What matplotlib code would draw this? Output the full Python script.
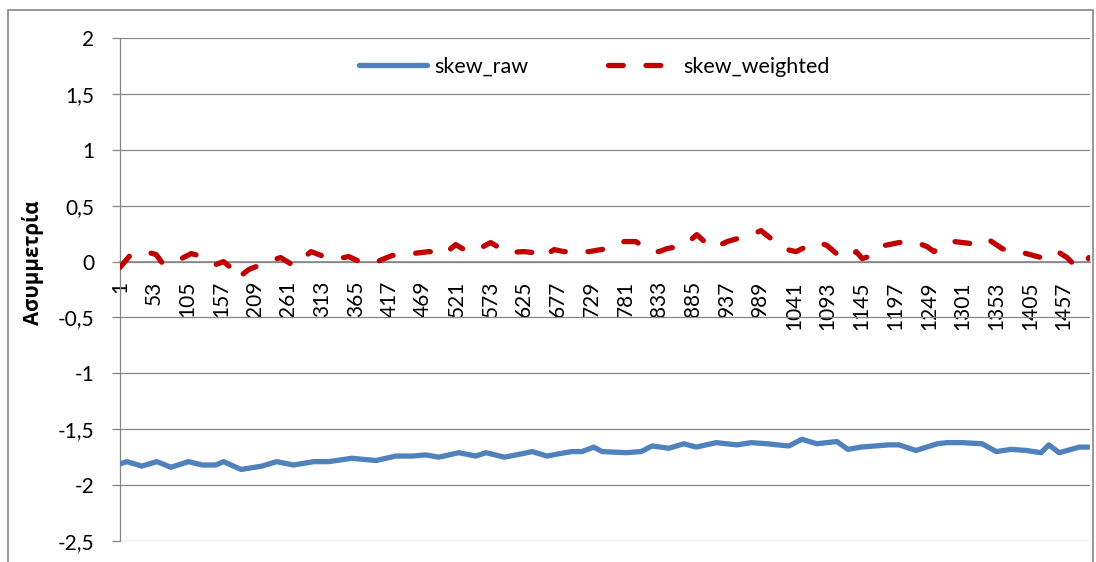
import matplotlib
matplotlib.use("Agg")
import matplotlib.pyplot as plt
from matplotlib.patches import Rectangle

# ---- data ----
n_categories = 1496
tick_categories = list(range(1, 1458, 52))
tick_labels = [str(c) for c in tick_categories]
y_ticks = [2, 1.5, 1, 0.5, 0, -0.5, -1, -1.5, -2, -2.5]
y_tick_labels = ["2", "1,5", "1", "0,5", "0", "-0,5", "-1", "-1,5", "-2", "-2,5"]

raw_x = [1, 12, 35, 58, 80, 107, 128, 149, 161, 188, 220, 243, 269, 300, 323, 359,
         396, 427, 452, 473, 493, 524, 550, 566, 594, 621, 637, 660, 678, 698, 714,
         732, 745, 782, 805, 822, 848, 871, 890, 921, 953, 975, 999, 1033, 1053,
         1076, 1107, 1124, 1144, 1187, 1203, 1229, 1262, 1277, 1300, 1331, 1353,
         1376, 1399, 1422, 1434, 1450, 1481, 1496]
skew_raw = [-1.81, -1.79, -1.83, -1.79, -1.84, -1.79, -1.82, -1.82, -1.79, -1.86,
            -1.83, -1.79, -1.82, -1.79, -1.79, -1.76, -1.78, -1.74, -1.74, -1.73,
            -1.75, -1.71, -1.74, -1.71, -1.75, -1.72, -1.70, -1.74, -1.72, -1.70,
            -1.70, -1.66, -1.70, -1.71, -1.70, -1.65, -1.67, -1.63, -1.66, -1.62,
            -1.64, -1.62, -1.63, -1.65, -1.59, -1.63, -1.61, -1.68, -1.66, -1.64,
            -1.64, -1.69, -1.63, -1.62, -1.62, -1.63, -1.70, -1.68, -1.69, -1.71,
            -1.64, -1.71, -1.66, -1.66]

weighted_x = [1, 18, 46, 57, 66, 77, 87, 111, 123, 141, 149, 161, 172, 182, 200,
              223, 239, 249, 269, 285, 296, 320, 339, 354, 374, 385, 398, 421, 452,
              478, 493, 501, 519, 532, 547, 573, 586, 597, 624, 640, 651, 671, 686,
              698, 725, 752, 779, 797, 820, 833, 845, 871, 882, 891, 913, 925, 938,
              964, 979, 990, 1015, 1030, 1044, 1067, 1080, 1092, 1110, 1126, 1137,
              1146, 1157, 1168, 1180, 1203, 1222, 1234, 1246, 1257, 1269, 1288, 1314,
              1326, 1339, 1362, 1376, 1388, 1422, 1434, 1442, 1450, 1462, 1473, 1484,
              1496]
skew_weighted = [-0.054, 0.063, 0.080, 0.063, -0.009, -0.027, 0.000, 0.071, 0.054,
                 0.000, -0.027, 0.000, -0.054, -0.152, -0.071, -0.018, 0.018, 0.036,
                 -0.036, 0.036, 0.089, 0.036, 0.027, 0.045, -0.009, -0.009, 0.000,
                 0.054, 0.071, 0.089, 0.080, 0.063, 0.152, 0.107, 0.089, 0.170, 0.125,
                 0.080, 0.089, 0.080, 0.036, 0.107, 0.089, 0.089, 0.089, 0.116, 0.179,
                 0.179, 0.089, 0.089, 0.116, 0.143, 0.196, 0.241, 0.125, 0.143, 0.179,
                 0.223, 0.250, 0.277, 0.161, 0.107, 0.089, 0.152, 0.170, 0.143, 0.054,
                 0.036, 0.089, 0.027, 0.045, 0.107, 0.143, 0.170, 0.179, 0.161, 0.134,
                 0.089, 0.143, 0.179, 0.161, 0.179, 0.205, 0.116, 0.089, 0.089, 0.036,
                 0.027, 0.036, 0.080, 0.036, -0.027, -0.054, 0.036]

# ---- figure ----
W, H = 1096, 562
fig = plt.figure(figsize=(W / 100, H / 100), dpi=100)
ax_l, ax_r, ax_t, ax_b = 119.5, 1090, 38, 541
ax = fig.add_axes([ax_l / W, 1 - ax_b / H, (ax_r - ax_l) / W, (ax_b - ax_t) / H])

grey = "#868686"
font = "Lato"

# spines first (set_position resets tick properties)
for s in ["top", "right"]:
    ax.spines[s].set_visible(False)
ax.spines["left"].set_color(grey)
ax.spines["left"].set_linewidth(0.9)
ax.spines["bottom"].set_position(("data", 0))
ax.spines["bottom"].set_color(grey)
ax.spines["bottom"].set_linewidth(1.2)

ax.plot(raw_x, skew_raw, color="#4F81BD", lw=3.8, solid_capstyle="round",
        solid_joinstyle="round", label="skew_raw", zorder=3)
ax.plot(weighted_x, skew_weighted, color="#C00000", lw=3.8, dashes=(2.8, 4.3),
        dash_capstyle="round", dash_joinstyle="round", label="skew_weighted", zorder=3)

ax.set_xlim(0.5, n_categories + 1.5)
ax.set_ylim(-2.5, 2)

ax.set_yticks(y_ticks)
ax.set_yticklabels(y_tick_labels, fontsize=15, family=font)
ax.yaxis.grid(True, color=grey, lw=0.9)
ax.set_axisbelow(True)
ax.tick_params(axis="y", direction="out", length=5.8, width=0.9, color=grey, pad=12.5)

ax.set_xticks(tick_categories)
ax.set_xticklabels(tick_labels, rotation=90, fontsize=15, family=font)
ax.tick_params(axis="x", length=0, pad=14)

leg = fig.legend(loc="center", bbox_to_anchor=(594 / W, 1 - 67 / H), ncol=2,
                 frameon=False, prop={"family": font, "size": 15.5},
                 handlelength=3.2, handletextpad=0.3, columnspacing=3.7)

fig.text(33 / W, 1 - 263 / H, "Ασυμμετρία", rotation=90, ha="center", va="center",
         fontsize=14.8, fontweight="bold", family=["Open Sans", "DejaVu Sans"])

fig.add_artist(Rectangle((8 / W, 1 - 566 / H), (1093 - 8) / W, (566 - 10) / H,
                         fill=False, ec=grey, lw=1.2, transform=fig.transFigure))

fig.savefig("out.png", dpi=100)
